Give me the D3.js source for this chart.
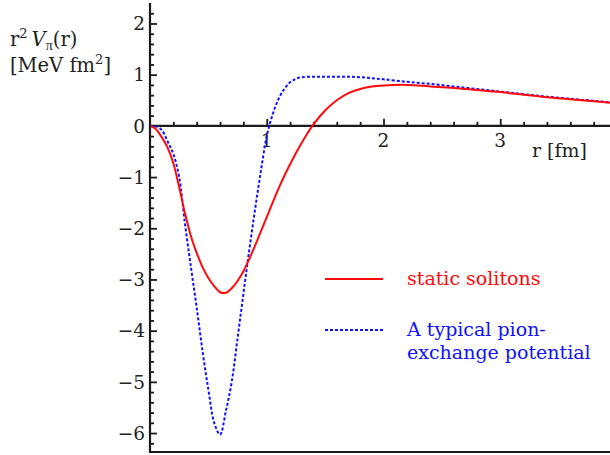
<!DOCTYPE html>
<html lang="en">
<head>
<meta charset="UTF-8">
<title>r2 V_pi(r)</title>
<script src="https://d3js.org/d3.v7.min.js"></script>
<style>
  body { margin: 0; background: #fff; }
  svg text { font-family: "DejaVu Serif", "Liberation Serif", serif; fill: #222; }
  .axis line, .axis path { stroke: #1a1a1a; }
</style>
</head>
<body>
<svg id="chart" width="610" height="455"></svg>
<script>
// radius grid (fm) and r^2 V(r) values (MeV fm^2)
const rSoliton = [0, 0.05, 0.1, 0.15, 0.2, 0.25, 0.3, 0.35, 0.4, 0.45, 0.5, 0.55, 0.6, 0.65, 0.7, 0.75, 0.8, 0.85, 0.9, 0.95, 1.0, 1.05, 1.1, 1.15, 1.2, 1.25, 1.3, 1.35, 1.4, 1.5, 1.6, 1.7, 1.8, 1.9, 2.0, 2.2, 2.4, 2.6, 2.8, 3.0, 3.2, 3.4, 3.6, 3.8, 3.94];
const vSoliton = [0, -0.06, -0.22, -0.42, -0.73, -1.2, -1.71, -2.15, -2.48, -2.76, -2.97, -3.13, -3.25, -3.26, -3.17, -3.03, -2.84, -2.6, -2.34, -2.06, -1.78, -1.5, -1.23, -0.98, -0.75, -0.53, -0.33, -0.14, 0.03, 0.3, 0.5, 0.64, 0.72, 0.77, 0.79, 0.8, 0.77, 0.74, 0.7, 0.66, 0.61, 0.56, 0.52, 0.48, 0.45];

const rPion = [0, 0.05, 0.1, 0.15, 0.2, 0.25, 0.3, 0.35, 0.4, 0.45, 0.5, 0.55, 0.6, 0.65, 0.7, 0.75, 0.8, 0.85, 0.9, 0.95, 1.0, 1.05, 1.1, 1.15, 1.2, 1.25, 1.3, 1.4, 1.5, 1.6, 1.7, 1.8, 1.9, 2.0, 2.2, 2.4, 2.6, 2.8, 3.0, 3.2, 3.4, 3.6, 3.8, 3.94];
const vPion = [0, -0.01, -0.08, -0.3, -0.55, -1.0, -1.92, -2.75, -3.55, -4.4, -5.15, -5.8, -6.03, -5.57, -5.0, -4.15, -3.28, -2.43, -1.63, -0.88, -0.2, 0.22, 0.52, 0.72, 0.85, 0.92, 0.95, 0.96, 0.96, 0.96, 0.96, 0.95, 0.93, 0.91, 0.86, 0.82, 0.77, 0.72, 0.67, 0.62, 0.57, 0.53, 0.49, 0.46];

const xMajor = [1, 2, 3];
const yMajor = [2, 1, 0, -1, -2, -3, -4, -5, -6];
const legendLabels = [["static solitons"], ["A typical pion-", "exchange potential"]];

const svg = d3.select("#chart");
const x = d3.scaleLinear().domain([0, 3.94]).range([150, 610]);
const y = d3.scaleLinear().domain([-6.37, 2.4]).range([452, 3]);

const xMinor = d3.range(0, 3.95, 0.2).filter(v => Math.abs(v - Math.round(v)) > 0.01);
const yMinor = d3.range(-6.2, 2.25, 0.2).filter(v => Math.abs(v - Math.round(v)) > 0.01);

// frame: left and bottom
svg.append("line").attr("x1", 150).attr("x2", 150).attr("y1", 3).attr("y2", 453)
  .attr("stroke", "#1a1a1a").attr("stroke-width", 2.2);
svg.append("line").attr("x1", 149).attr("x2", 610).attr("y1", 452).attr("y2", 452)
  .attr("stroke", "#1a1a1a").attr("stroke-width", 2.2);

// y axis ticks pointing inward
const yAxisG = svg.append("g").attr("class", "axis").attr("transform", "translate(150,0)");
yAxisG.append("g").call(d3.axisRight(y).tickValues(yMinor).tickSize(4).tickFormat(""))
  .call(g => g.select(".domain").remove())
  .selectAll("line").attr("stroke-width", 1.8);
yAxisG.append("g").call(d3.axisRight(y).tickValues(yMajor).tickSize(7).tickFormat(""))
  .call(g => g.select(".domain").remove())
  .selectAll("line").attr("stroke-width", 1.8);

svg.selectAll(".ylab").data(yMajor).enter().append("text")
  .attr("class", "ylab")
  .attr("x", 145).attr("y", d => y(d)).attr("dy", "0.36em")
  .attr("text-anchor", "end").attr("font-size", 18.5)
  .text(d => d < 0 ? "\u2212" + Math.abs(d) : d);

// x axis along V = 0, ticks upward
const xAxisG = svg.append("g").attr("class", "axis").attr("transform", `translate(0,${y(0)})`);
xAxisG.append("line").attr("x1", 150).attr("x2", 610).attr("y1", 0).attr("y2", 0)
  .attr("stroke", "#1a1a1a").attr("stroke-width", 2.2);
xAxisG.append("g").call(d3.axisTop(x).tickValues(xMinor).tickSize(4).tickFormat(""))
  .call(g => g.select(".domain").remove())
  .selectAll("line").attr("stroke-width", 1.8);
xAxisG.append("g").call(d3.axisTop(x).tickValues(xMajor).tickSize(7).tickFormat(""))
  .call(g => g.select(".domain").remove())
  .selectAll("line").attr("stroke-width", 1.8);

svg.selectAll(".xlab").data(xMajor).enter().append("text")
  .attr("class", "xlab")
  .attr("x", d => x(d)).attr("y", y(0) + 21)
  .attr("text-anchor", "middle").attr("font-size", 18.5)
  .text(d => d);

svg.append("text").attr("x", 532).attr("y", 157).attr("font-size", 19).text("r [fm]");

// y axis title
const t1 = svg.append("text").attr("x", 10).attr("y", 46).attr("font-size", 19.5);
t1.append("tspan").text("r");
t1.append("tspan").attr("dy", -8).attr("font-size", 13).text("2");
t1.append("tspan").attr("dy", 8).attr("dx", 4).attr("font-style", "italic").text("V");
t1.append("tspan").attr("dy", 4).attr("font-size", 14)
  .style("font-family", "'Liberation Serif', serif").text("\u03c0");
t1.append("tspan").attr("dy", -4).text("(r)");
const t2 = svg.append("text").attr("x", 10).attr("y", 72).attr("font-size", 19.5);
t2.append("tspan").text("[MeV fm");
t2.append("tspan").attr("dy", -8).attr("font-size", 13).text("2");
t2.append("tspan").attr("dy", 8).text("]");

// curves
svg.append("clipPath").attr("id", "plotClip").append("rect")
  .attr("x", 151).attr("y", 3).attr("width", 459).attr("height", 448);

const line = d3.line().x(d => x(d[0])).y(d => y(d[1])).curve(d3.curveCatmullRom.alpha(0.5));
const plot = svg.append("g").attr("clip-path", "url(#plotClip)");

plot.append("path").datum(d3.zip(rPion, vPion))
  .attr("d", line).attr("fill", "none")
  .attr("stroke", "#1010ff").attr("stroke-width", 2).attr("stroke-dasharray", "3,2");
plot.append("path").datum(d3.zip(rSoliton, vSoliton))
  .attr("d", line).attr("fill", "none")
  .attr("stroke", "#ff0a0a").attr("stroke-width", 2);

// legend
const legendY = [279, 330];
const legendColor = ["#ff0a0a", "#1010ff"];
const legendDash = [null, "3,2"];
legendLabels.forEach((lines, i) => {
  svg.append("line").attr("x1", 325).attr("x2", 383)
    .attr("y1", legendY[i]).attr("y2", legendY[i])
    .attr("stroke", legendColor[i]).attr("stroke-width", 2)
    .attr("stroke-dasharray", legendDash[i]);
  lines.forEach((txt, j) => {
    svg.append("text").attr("x", 407).attr("y", legendY[i] + 6 + j * 23)
      .attr("font-size", 19).style("fill", legendColor[i]).text(txt);
  });
});
</script>
</body>
</html>
